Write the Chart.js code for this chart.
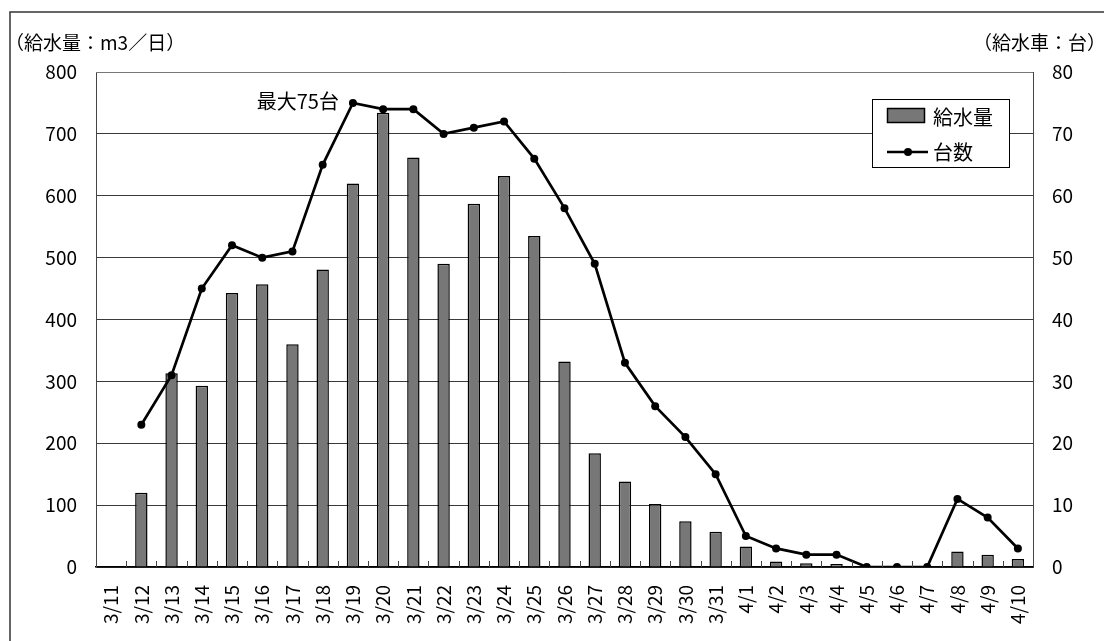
<!DOCTYPE html>
<html>
<head>
<meta charset="utf-8">
<script src="https://cdn.jsdelivr.net/npm/chart.js@4.4.0/dist/chart.umd.min.js"></script>
<style>
body{margin:0;background:#fff;}
canvas{display:block;}
</style>
</head>
<body>
<canvas id="c" width="1104" height="641"></canvas>
<script>
// dates 3/11 .. 4/10
const days = ['3/11','3/12','3/13','3/14','3/15','3/16','3/17','3/18','3/19','3/20','3/21',
  '3/22','3/23','3/24','3/25','3/26','3/27','3/28','3/29','3/30','3/31',
  '4/1','4/2','4/3','4/4','4/5','4/6','4/7','4/8','4/9','4/10'];
// 給水量 (m3/日)
const waterVol = [null,120,313,293,443,457,360,481,620,734,662,
  490,587,632,535,332,184,138,102,74,57,
  33,9,6,5,0,0,0,25,20,13];
// 台数 (給水車)
const truckCount = [null,23,31,45,52,50,51,65,75,74,74,
  70,71,72,66,58,49,33,26,21,15,
  5,3,2,2,0,0,0,11,8,3];
const leftTicks = [0,100,200,300,400,500,600,700,800];
const rightTicks = [0,10,20,30,40,50,60,70,80];

const FONT = "'Noto Sans CJK JP','Noto Sans',sans-serif";
Chart.defaults.font.family = FONT;
Chart.defaults.color = '#000';

const decor = {
  id:'decor',
  afterDraw(chart){
    const ctx = chart.ctx, ca = chart.chartArea;
    ctx.save();
    // outer frame
    ctx.strokeStyle = '#333'; ctx.lineWidth = 1.5;
    ctx.strokeRect(10, 12, 1120, 700);
    // plot top border
    ctx.strokeStyle = '#777'; ctx.lineWidth = 1;
    ctx.beginPath(); ctx.moveTo(ca.left, ca.top+0.5); ctx.lineTo(ca.right, ca.top+0.5); ctx.stroke();
    // x tick marks between categories (inside)
    const w = (ca.right-ca.left)/days.length;
    ctx.strokeStyle = '#444';
    ctx.beginPath();
    for(let i=1;i<days.length;i++){
      const x = Math.round(ca.left+i*w)+0.5;
      ctx.moveTo(x, ca.bottom); ctx.lineTo(x, ca.bottom-6);
    }
    ctx.stroke();
    // axis titles
    ctx.fillStyle = '#000';
    ctx.font = '19px '+FONT;
    ctx.textBaseline = 'middle';
    ctx.textAlign = 'left';
    ctx.fillText('（給水量：m3／日）', 5, 43);
    ctx.textAlign = 'right';
    ctx.fillText('（給水車：台）', 1106, 43);
    // peak annotation
    const meta = chart.getDatasetMeta(1);
    const peakIdx = truckCount.indexOf(Math.max(...truckCount.filter(v=>v!=null)));
    const pt = meta.data[peakIdx];
    ctx.font = '20px '+FONT;
    ctx.textAlign = 'right';
    ctx.fillText('最大'+truckCount[peakIdx]+'台', pt.x-14, pt.y-2);
    // legend
    const lx = 872, ly = 99;
    ctx.fillStyle = '#fff';
    ctx.fillRect(lx, ly, 137, 68);
    ctx.strokeStyle = '#000'; ctx.lineWidth = 1;
    ctx.strokeRect(lx+0.5, ly+0.5, 137, 68);
    ctx.fillStyle = '#777';
    ctx.fillRect(887, 108, 37, 14);
    ctx.lineWidth = 1.5;
    ctx.strokeRect(887.5, 108.5, 37, 14);
    ctx.strokeStyle = '#000'; ctx.lineWidth = 2.5;
    ctx.beginPath(); ctx.moveTo(887, 152); ctx.lineTo(928, 152); ctx.stroke();
    ctx.fillStyle = '#000';
    ctx.beginPath(); ctx.arc(908, 152, 4, 0, Math.PI*2); ctx.fill();
    ctx.font = '20px '+FONT;
    ctx.textAlign = 'left';
    ctx.fillText('給水量', 933, 117);
    ctx.fillText('台数', 933, 152);
    ctx.restore();
  }
};

new Chart(document.getElementById('c'), {
  type:'bar',
  data:{
    labels: days,
    datasets:[
      {type:'bar', label:'給水量', data:waterVol, yAxisID:'y',
       backgroundColor:'#777777', borderColor:'#000', borderWidth:1.5,
       categoryPercentage:1.0, barPercentage:0.41, order:2},
      {type:'line', label:'台数', data:truckCount, yAxisID:'y1',
       borderColor:'#000', borderWidth:2.7, pointRadius:4, pointBackgroundColor:'#000',
       pointBorderWidth:0, tension:0, spanGaps:false, order:1}
    ]
  },
  options:{
    responsive:false,
    animation:false,
    layout:{padding:{top:72,left:0,right:0,bottom:0}},
    plugins:{legend:{display:false}, tooltip:{enabled:false}},
    scales:{
      x:{
        offset:true,
        grid:{display:false, drawTicks:false},
        border:{color:'#000', width:1.5},
        ticks:{font:{size:19}, color:'#000', minRotation:90, maxRotation:90, autoSkip:false, padding:18},
        afterFit(s){ s.height = 74; }
      },
      y:{
        position:'left', min:0, max:800,
        afterBuildTicks(s){ s.ticks = leftTicks.map(v=>({value:v})); },
        grid:{color:'#3a3a3a', lineWidth:1, drawTicks:false},
        border:{color:'#444', width:1},
        ticks:{font:{size:19}, color:'#000', padding:19},
        afterFit(s){ s.width = 96; }
      },
      y1:{
        position:'right', min:0, max:80,
        afterBuildTicks(s){ s.ticks = rightTicks.map(v=>({value:v})); },
        grid:{drawOnChartArea:false, drawTicks:false},
        border:{color:'#444', width:1},
        ticks:{font:{size:19}, color:'#000', padding:19},
        afterFit(s){ s.width = 71; }
      }
    }
  },
  plugins:[decor]
});
</script>
</body>
</html>
